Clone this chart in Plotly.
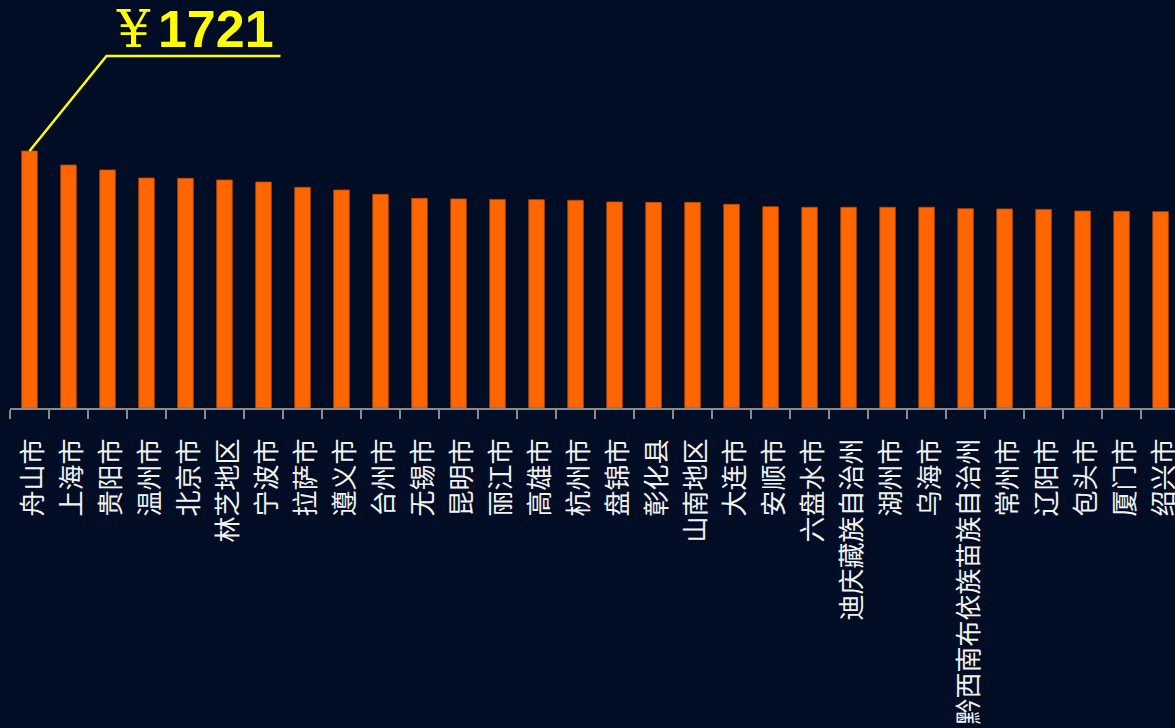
import plotly.graph_objects as go

cities = ["舟山市", "上海市", "贵阳市", "温州市", "北京市", "林芝地区", "宁波市", "拉萨市", "遵义市", "台州市",
          "无锡市", "昆明市", "丽江市", "高雄市", "杭州市", "盘锦市", "彰化县", "山南地区", "大连市", "安顺市",
          "六盘水市", "迪庆藏族自治州", "湖州市", "乌海市", "黔西南布依族苗族自治州", "常州市", "辽阳市", "包头市", "厦门市", "绍兴市"]
values = [1721, 1627, 1594, 1540, 1538, 1527, 1513, 1478, 1460, 1431,
          1404, 1400, 1397, 1395, 1391, 1380, 1377, 1377, 1364, 1348,
          1344, 1344, 1344, 1344, 1335, 1333, 1330, 1319, 1317, 1315]

top_city = cities[0]
top_value = values[0]

BG = "#010d24"

fig = go.Figure(go.Bar(
    x=cities, y=values,
    marker=dict(color="#ff6600", line=dict(color="#b84a08", width=0.8)),
    hoverinfo="x+y",
))

# leader line + underline anchored at the top of the first bar
fig.add_shape(type="path", xref="x", yref="y",
              xsizemode="pixel", ysizemode="pixel",
              xanchor=top_city, yanchor=top_value,
              path="M 0,0 L 77,95 L 251,95",
              line=dict(color="#ffff00", width=2.5))

fig.add_annotation(
    x=top_city, y=top_value, xref="x", yref="y",
    text=("<span style='font-family:DejaVu Serif;font-weight:normal'>¥</span>"
          "<span style='font-size:28px'> </span><b>1721</b>"),
    showarrow=False, xanchor="left", yanchor="bottom",
    xshift=84, yshift=90,
    font=dict(family="Liberation Sans", size=52, color="#ffff00"),
)

fig.update_layout(
    width=1175, height=728,
    paper_bgcolor=BG, plot_bgcolor=BG,
    margin=dict(l=10, r=0, t=0, b=320),
    bargap=0.6,
    showlegend=False,
    xaxis=dict(
        range=[-0.5, 29.37],
        showline=True, linecolor="#8a8a8a", linewidth=2,
        ticks="outside", ticklen=9, tickcolor="#8a8a8a", tickwidth=2,
        tickson="boundaries",
        tickangle=-90,
        tickfont=dict(family="Noto Sans CJK SC", size=26, color="#f2f2f2"),
        showgrid=False, zeroline=False,
        ticklabelstandoff=18,
        ticklabelshift=4,
        automargin=False,
    ),
    yaxis=dict(
        range=[0, top_value * 408 / 257],
        visible=False, showgrid=False, zeroline=False,
    ),
)

fig.write_html(
    "out.html",
    config={"displayModeBar": False},
    post_script="document.body.style.margin='0';document.body.style.padding='0';"
                "document.body.style.overflow='hidden';"
                "document.body.style.background='" + BG + "';",
)
